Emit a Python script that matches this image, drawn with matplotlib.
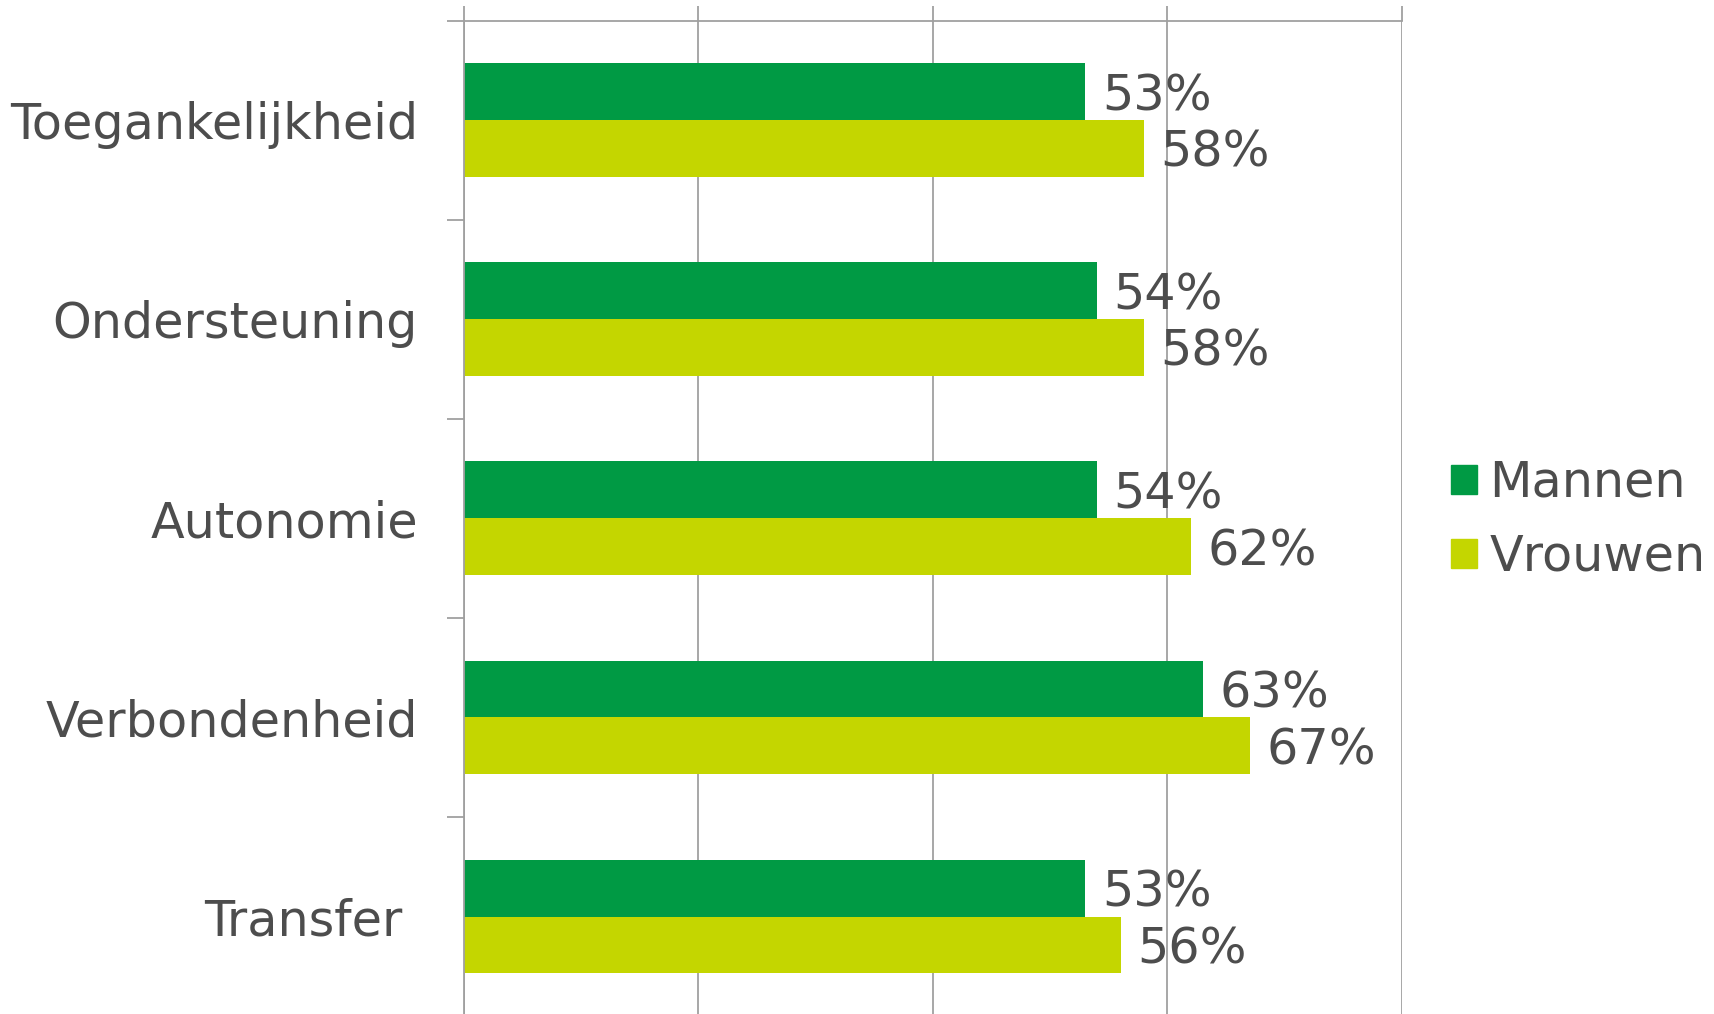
import numpy as np
import matplotlib
matplotlib.use("Agg")
import matplotlib.pyplot as plt
import matplotlib.ticker as mticker
from matplotlib.patches import Patch

categories = ["Toegankelijkheid", "Ondersteuning", "Autonomie", "Verbondenheid", "Transfer "]
mannen = [53, 54, 54, 63, 53]
vrouwen = [58, 58, 62, 67, 56]

green = "#009A44"
yellow = "#C4D600"
text_col = "#4D4D4D"
grid_col = "#A0A0A0"
fs = 35.5

plt.rcParams['font.family'] = ['DejaVu Sans']

fig = plt.figure(figsize=(17.15, 10.14), dpi=100)
ax = fig.add_axes([0.2704, -0.002, 0.8175 - 0.2704, 0.9815])

y = np.arange(len(categories))
h = 0.286
ax.barh(y - h / 2, mannen, height=h, color=green, label="Mannen", zorder=2)
ax.barh(y + h / 2, vrouwen, height=h, color=yellow, label="Vrouwen", zorder=2)

for yi, m, v in zip(y, mannen, vrouwen):
    ax.annotate(f"{m}%", (m, yi - h / 2), xytext=(12, -3), textcoords="offset points",
                va="center", ha="left", fontsize=fs, color=text_col)
    ax.annotate(f"{v}%", (v, yi + h / 2), xytext=(12, -3), textcoords="offset points",
                va="center", ha="left", fontsize=fs, color=text_col)

ax.set_xlim(0, 80)
ax.set_ylim(len(categories) - 0.5, -0.5)

ax.xaxis.set_major_locator(mticker.MultipleLocator(20))
ax.xaxis.tick_top()
ax.tick_params(axis="x", which="major", length=11, width=1.3, color=grid_col,
               labeltop=False, labelbottom=False, direction="out")
ax.xaxis.grid(True, color=grid_col, linewidth=1.3, zorder=0)

ax.yaxis.set_major_locator(mticker.FixedLocator(np.arange(-0.5, len(categories), 1.0)))
ax.yaxis.set_major_formatter(mticker.NullFormatter())
ax.yaxis.set_minor_locator(mticker.FixedLocator(y))
ax.yaxis.set_minor_formatter(mticker.FixedFormatter(categories))
ax.tick_params(axis="y", which="major", length=12, width=1.3, color=grid_col)
ax.tick_params(axis="y", which="minor", length=0, pad=33, labelsize=fs, labelcolor=text_col)

for side in ["right", "bottom"]:
    ax.spines[side].set_visible(False)
for side in ["left", "top"]:
    ax.spines[side].set_color(grid_col)
    ax.spines[side].set_linewidth(1.3)

handles = [Patch(color=green), Patch(color=yellow)]
fig.legend(handles, ["Mannen", "Vrouwen"], loc="center left", bbox_to_anchor=(0.846, 0.4876),
           frameon=False, fontsize=fs, labelcolor=text_col, handlelength=0.53,
           handleheight=0.53, handletextpad=0.25, labelspacing=0.53, borderpad=0,
           borderaxespad=0)

fig.savefig("out.png", dpi=100)
